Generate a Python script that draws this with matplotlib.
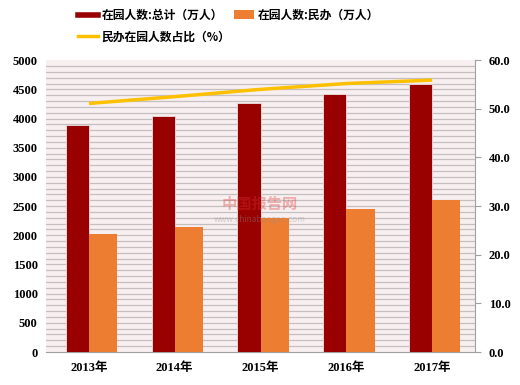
import matplotlib
matplotlib.use("Agg")
import matplotlib.pyplot as plt
import numpy as np
from matplotlib.lines import Line2D
from matplotlib.patches import Patch

plt.rcParams["font.family"] = ["Noto Sans CJK SC", "DejaVu Sans"]

years = ["2013年", "2014年", "2015年", "2016年", "2017年"]
total = [3895, 4051, 4265, 4414, 4600]        # 在园人数:总计（万人）
private = [2020, 2150, 2302, 2450, 2600]      # 在园人数:民办（万人）
ratio = [51.1, 52.5, 54.0, 55.2, 55.9]        # 民办在园人数占比（%）

fig = plt.figure(figsize=(5.2, 3.85), dpi=100)
ax = fig.add_axes([0.0885, 0.0857, 0.825, 0.758])
ax.set_facecolor("#F8F0F0")

x = np.arange(len(years))
w_dark, w_orange = 0.27, 0.33

# striped background
for v in range(100, 5000, 100):
    ax.axhline(v, color="#C4C0C0", lw=0.9, zorder=0)

ax.bar(x - w_dark / 2, total, width=w_dark, color="#990000",
       edgecolor="#F0E0E0", linewidth=0.6, zorder=3)
ax.bar(x + w_orange / 2, private, width=w_orange, color="#ED7D31",
       zorder=3)

ax.set_xlim(-0.5, len(years) - 0.5)
ax.set_ylim(0, 5000)
ax.set_yticks(range(0, 5001, 500))
ax.set_xticks(x)
ax.set_xticklabels(years)
ax.tick_params(axis="x", length=0, pad=7)
ax.tick_params(axis="y", length=0, pad=6)
for lbl in ax.get_yticklabels() + ax.get_xticklabels():
    lbl.set_fontweight("bold")
    lbl.set_fontsize(9)
    lbl.set_family(["Liberation Serif", "Noto Sans CJK SC"])
for s in ["top", "left"]:
    ax.spines[s].set_visible(False)
ax.spines["right"].set_visible(False)
ax.spines["bottom"].set_color("#A0A0A0")

ax2 = ax.twinx()
ax2.plot(x, ratio, color="#FFC000", lw=2.5, zorder=5, solid_capstyle="butt")
ax2.set_ylim(0, 60)
ax2.set_yticks(range(0, 61, 10))
ax2.set_yticklabels([f"{v:.1f}" for v in range(0, 61, 10)])
ax2.tick_params(axis="y", length=4, color="#A0A0A0", pad=6)
for lbl in ax2.get_yticklabels():
    lbl.set_fontweight("bold")
    lbl.set_fontsize(9)
    lbl.set_family(["Liberation Serif"])
for s in ["top", "left", "bottom"]:
    ax2.spines[s].set_visible(False)
ax2.spines["right"].set_color("#A0A0A0")

# watermark
fig.text(0.5, 0.47, "中国报告网", color="#E03030", alpha=0.35, fontsize=11,
         fontweight="bold", ha="center", va="center")
fig.text(0.5, 0.43, "www.chinabaogao.com", color="#909090", alpha=0.4,
         fontsize=6, ha="center", va="center")

handles = [
    Line2D([0], [0], color="#990000", lw=4),
    Line2D([0], [0], color="#FFC000", lw=2.5),
    Patch(facecolor="#ED7D31"),
]
labels = ["在园人数:总计（万人）", "民办在园人数占比（%）", "在园人数:民办（万人）"]
fig.legend(handles, labels, ncol=2, loc="upper left",
           bbox_to_anchor=(0.13, 1.005), frameon=False,
           prop={"size": 8.5, "weight": "bold"},
           handlelength=1.7, handletextpad=0.3, columnspacing=0.3,
           labelspacing=0.75)

fig.savefig("out.png", dpi=100)
